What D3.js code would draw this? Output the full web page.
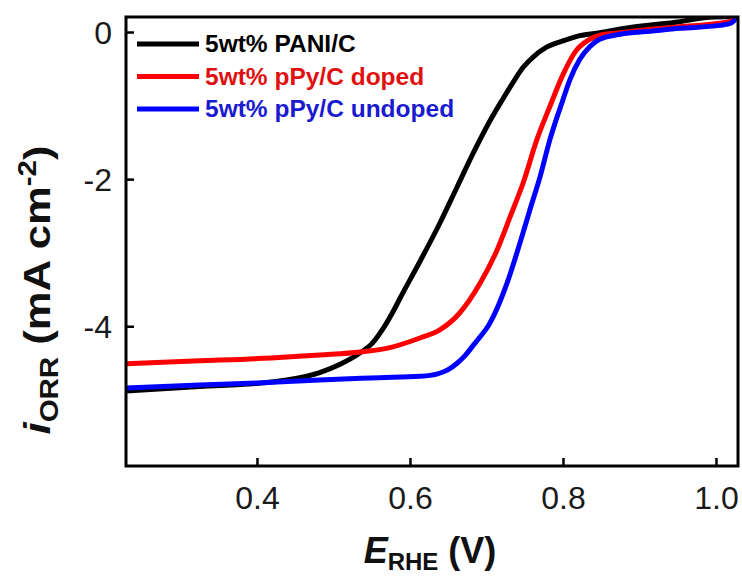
<!DOCTYPE html>
<html>
<head>
<meta charset="utf-8">
<script src="https://cdn.jsdelivr.net/npm/d3@7"></script>
<style>
  html, body { margin: 0; padding: 0; background: #fff; }
  svg { display: block; font-family: "Liberation Sans", Arial, sans-serif; }
</style>
</head>
<body>
<svg id="chart" width="742" height="583"></svg>
<script>
// Linear sweep voltammetry (ORR) curves, potential in V vs RHE, current in mA cm^-2
const potentialPANI = [0.229, 0.325, 0.408, 0.439, 0.482, 0.508, 0.535, 0.550, 0.565, 0.578, 0.587, 0.613, 0.639, 0.661, 0.682, 0.705, 0.722, 0.735, 0.748, 0.762, 0.778, 0.803, 0.822, 0.848, 0.888, 0.953, 0.992, 1.025];
const currentPANI   = [-4.88, -4.82, -4.77, -4.73, -4.63, -4.52, -4.36, -4.24, -4.03, -3.80, -3.62, -3.12, -2.60, -2.12, -1.66, -1.20, -0.90, -0.68, -0.48, -0.33, -0.21, -0.11, -0.05, -0.01, 0.06, 0.14, 0.20, 0.21];

const potentialDoped = [0.229, 0.325, 0.400, 0.482, 0.535, 0.574, 0.613, 0.639, 0.665, 0.692, 0.714, 0.731, 0.748, 0.766, 0.783, 0.800, 0.816, 0.835, 0.855, 0.875, 0.900, 0.953, 1.005, 1.018, 1.026];
const currentDoped   = [-4.51, -4.47, -4.44, -4.39, -4.35, -4.29, -4.16, -4.05, -3.82, -3.41, -2.96, -2.51, -2.05, -1.46, -1.01, -0.58, -0.27, -0.10, -0.03, -0.01, 0.02, 0.07, 0.12, 0.14, 0.21];

const potentialUndoped = [0.229, 0.325, 0.400, 0.482, 0.560, 0.613, 0.635, 0.650, 0.662, 0.672, 0.682, 0.692, 0.702, 0.727, 0.744, 0.757, 0.770, 0.783, 0.800, 0.809, 0.822, 0.835, 0.848, 0.875, 0.914, 0.953, 1.005, 1.021, 1.027];
const currentUndoped   = [-4.84, -4.80, -4.77, -4.73, -4.70, -4.68, -4.65, -4.59, -4.50, -4.40, -4.27, -4.14, -4.00, -3.41, -2.86, -2.41, -1.97, -1.46, -0.92, -0.65, -0.37, -0.20, -0.10, -0.03, 0.01, 0.05, 0.09, 0.13, 0.20];

const seriesNames  = ["5wt% PANI/C", "5wt% pPy/C doped", "5wt% pPy/C undoped"];
const seriesColors = ["#000000", "#ff0000", "#0000ff"];
const labelColors  = ["#000000", "#e01010", "#1a1ad0"];

const xTicks = [0.4, 0.6, 0.8, 1.0];
const yTicks = [0, -2, -4];

const svg = d3.select("#chart");
const margin = { left: 126, right: 4, top: 17, bottom: 117 };
const W = 742, H = 583;
const plotW = W - margin.left - margin.right;
const plotH = H - margin.top - margin.bottom;

const x = d3.scaleLinear().domain([0.2288, 1.0288]).range([0, plotW]);
const y = d3.scaleLinear().domain([-5.9, 0.204]).range([plotH, 0]);

const g = svg.append("g").attr("transform", `translate(${margin.left},${margin.top})`);

g.append("clipPath").attr("id", "plotClip")
  .append("rect").attr("width", plotW).attr("height", plotH);

const series = [
  potentialPANI.map((e, i) => [e, currentPANI[i]]),
  potentialDoped.map((e, i) => [e, currentDoped[i]]),
  potentialUndoped.map((e, i) => [e, currentUndoped[i]])
];

const line = d3.line()
  .x(d => x(d[0]))
  .y(d => y(d[1]))
  .curve(d3.curveMonotoneX);

const lines = g.append("g").attr("clip-path", "url(#plotClip)");
series.forEach((s, k) => {
  lines.append("path")
    .datum(s)
    .attr("fill", "none")
    .attr("stroke", seriesColors[k])
    .attr("stroke-width", 5)
    .attr("stroke-linejoin", "round")
    .attr("d", line);
});

// Axes with inward ticks
const xAxis = g.append("g")
  .attr("transform", `translate(0,${plotH})`)
  .call(d3.axisBottom(x).tickValues(xTicks).tickFormat(d3.format(".1f")).tickSizeInner(-8).tickSizeOuter(0).tickPadding(20));
const yAxis = g.append("g")
  .call(d3.axisLeft(y).tickValues(yTicks).tickFormat(d => d === 0 ? "0" : String(d).replace("\u2212", "-")).tickSizeInner(-8).tickSizeOuter(0).tickPadding(14));

[xAxis, yAxis].forEach(a => {
  a.select(".domain").remove();
  a.selectAll(".tick line").attr("stroke", "#000").attr("stroke-width", 2.5);
  a.selectAll(".tick text")
    .attr("fill", "#1a1a1a")
    .style("font-family", "'Liberation Sans', Arial, sans-serif")
    .style("font-size", "32px");
});
yAxis.selectAll(".tick text").attr("dy", "0.36em");

// Frame
g.append("rect")
  .attr("width", plotW).attr("height", plotH)
  .attr("fill", "none").attr("stroke", "#000").attr("stroke-width", 3);

// Legend
const legend = g.append("g");
seriesNames.forEach((name, k) => {
  const ly = 27 + k * 32.5;
  legend.append("line")
    .attr("x1", 11).attr("x2", 73).attr("y1", ly).attr("y2", ly)
    .attr("stroke", seriesColors[k]).attr("stroke-width", 5);
  legend.append("text")
    .attr("x", 79).attr("y", ly + 8)
    .attr("fill", labelColors[k])
    .style("font-size", "24.5px").style("font-weight", "bold")
    .text(name);
});

// Axis titles
const xt = svg.append("text")
  .attr("x", margin.left + plotW / 2 - 2).attr("y", 563)
  .attr("text-anchor", "middle")
  .style("font-size", "36px").style("font-weight", "bold").attr("fill", "#111");
xt.append("tspan").style("font-style", "italic").text("E");
xt.append("tspan").attr("dy", 7).style("font-size", "24px").text("RHE");
xt.append("tspan").attr("dy", -7).text("\u00a0(V)");

const yt = svg.append("text")
  .attr("transform", `translate(50,290) rotate(-90) scale(1.18,1)`)
  .attr("text-anchor", "middle")
  .style("font-size", "37px").style("font-weight", "bold").attr("fill", "#111");
yt.append("tspan").style("font-style", "italic").text("i");
yt.append("tspan").attr("dy", 8).style("font-size", "25px").text("ORR");
yt.append("tspan").attr("dy", -8).text("\u00a0(mA cm");
yt.append("tspan").attr("dy", -14).style("font-size", "25px").text("-2");
yt.append("tspan").attr("dy", 14).text(")");
</script>
</body>
</html>
